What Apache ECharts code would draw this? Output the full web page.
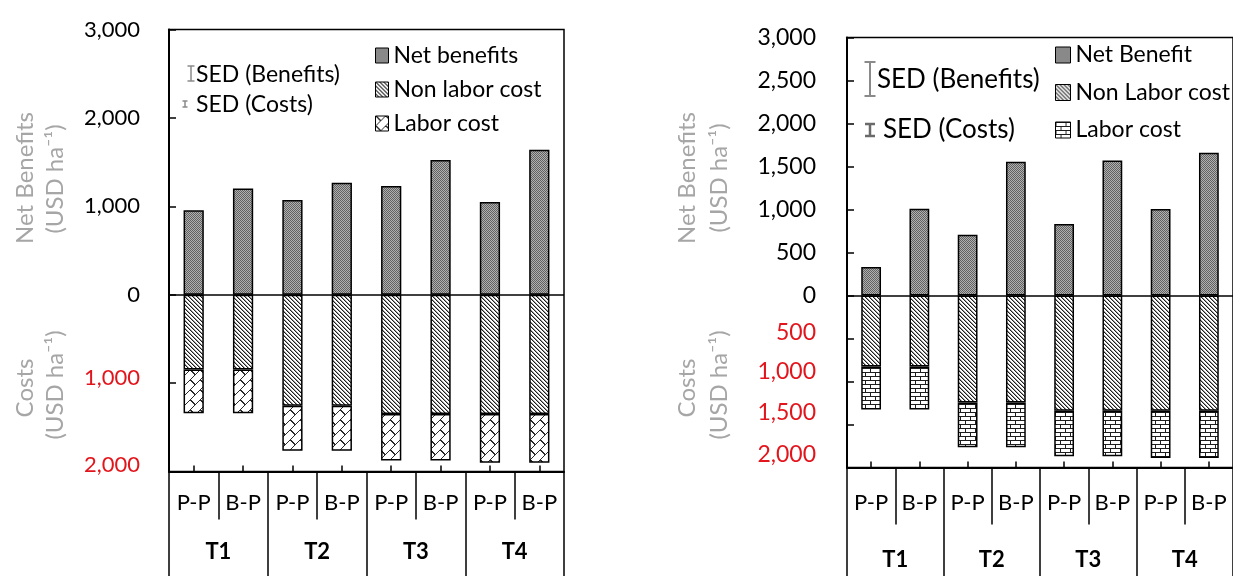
<!DOCTYPE html>
<html>
<head>
<meta charset="utf-8">
<script src="https://cdn.jsdelivr.net/npm/echarts@6/dist/echarts.min.js"></script>
<style>
html,body{margin:0;padding:0;background:#fff;}
#chart{width:1233px;height:576px;}
</style>
</head>
<body>
<div id="chart"></div>
<script>
// ---------------- data ----------------
const categories = ['P-P', 'B-P', 'P-P', 'B-P', 'P-P', 'B-P', 'P-P', 'B-P'];
const groups = ['T1', 'T2', 'T3', 'T4'];

const leftNames = ['Net benefits', 'Non labor cost', 'Labor cost'];
const leftNetBenefits = [955, 1200, 1070, 1265, 1230, 1525, 1050, 1640];
const leftNonLaborCost = [845, 845, 1255, 1255, 1350, 1350, 1350, 1350];
const leftLaborCost = [495, 495, 510, 510, 525, 525, 550, 550];

const rightNames = ['Net Benefit', 'Non Labor cost', 'Labor cost'];
const rightNetBenefits = [330, 1010, 705, 1555, 830, 1570, 1005, 1660];
const rightNonLaborCost = [825, 825, 1245, 1245, 1340, 1340, 1340, 1340];
const rightLaborCost = [500, 500, 520, 520, 530, 530, 550, 550];

const leftAxisRange = [-2000, 3000];
const leftAxisStep = 1000;
const rightAxisRange = [-2000, 3000];
const rightAxisStep = 500;

const axisTitleTop = ['Net Benefits', '(USD ha\u207B\u00B9)'];
const axisTitleBottom = ['Costs', '(USD ha\u207B\u00B9)'];
const sedLabels = ['SED (Benefits)', 'SED (Costs)'];

// ---------------- patterns ----------------
function tile(w, h, draw) {
  const c = document.createElement('canvas');
  c.width = w; c.height = h;
  const ctx = c.getContext('2d');
  draw(ctx);
  return { image: c, repeat: 'repeat' };
}
const patNet = tile(2, 2, ctx => {
  ctx.fillStyle = '#b0b0b0'; ctx.fillRect(0, 0, 2, 2);
  ctx.fillStyle = '#626262'; ctx.fillRect(0, 0, 1, 1); ctx.fillRect(1, 1, 1, 1);
});
const patNonLabor = tile(4, 4, ctx => {
  ctx.fillStyle = '#ffffff'; ctx.fillRect(0, 0, 4, 4);
  for (let i = 0; i < 4; i++) {
    ctx.fillStyle = '#1e1e1e'; ctx.fillRect(i, i, 1, 1);
    ctx.fillStyle = '#9a9a9a'; ctx.fillRect((i + 1) % 4, i, 1, 1);
  }
});
const patDiagBrick = tile(20, 20, ctx => {
  ctx.fillStyle = '#ffffff'; ctx.fillRect(0, 0, 20, 20);
  ctx.fillStyle = '#2a2a2a';
  for (let x = 0; x < 20; x++) for (let y = 0; y < 20; y++) {
    const u = (x + y) % 20;
    const v = ((x - y) % 20 + 20) % 20;
    const band = Math.floor(u / 10);
    if (u % 10 === 9) ctx.fillRect(x, y, 1, 1);
    else if (band === 0 && (v === 0 || v === 1)) ctx.fillRect(x, y, 1, 1);
    else if (band === 1 && (v === 10 || v === 11)) ctx.fillRect(x, y, 1, 1);
  }
});
const patHorizBrick = tile(10, 8, ctx => {
  ctx.fillStyle = '#ffffff'; ctx.fillRect(0, 0, 10, 8);
  ctx.fillStyle = '#1e1e1e';
  ctx.fillRect(0, 0, 10, 1); ctx.fillRect(0, 4, 10, 1);
  ctx.fillRect(0, 1, 1, 3); ctx.fillRect(5, 5, 1, 3);
});

// ---------------- helpers ----------------
const FONT = 'Lato, "Open Sans", sans-serif';
const RED = '#e3151c';
const GRAY = '#a6a6a6';

function labelFormatter(shifts) {
  return function (v) {
    const s = Math.abs(v).toLocaleString('en-US');
    const p = shifts[v];
    return p ? '{s' + p + '|' + s + '}' : s;
  };
}
function richFor(shifts) {
  const r = {};
  Object.keys(shifts).forEach(k => { r['s' + shifts[k]] = { padding: [0, 0, shifts[k], 0] }; });
  return r;
}
function yAxisFor(grid, range, step, fontSize, margin, shifts) {
  return {
    gridIndex: grid, type: 'value', min: range[0], max: range[1], interval: step,
    axisLine: { show: true, lineStyle: { color: '#000', width: 2 } },
    axisTick: { show: true, inside: true, length: 7, lineStyle: { color: '#000', width: 1.5 } },
    splitLine: { show: false },
    axisLabel: {
      margin: margin, fontFamily: FONT, fontSize: fontSize,
      color: v => (v < 0 ? RED : '#000'),
      formatter: labelFormatter(shifts), rich: richFor(shifts)
    }
  };
}
function xAxesFor(grid, sepLen, labelMargin, groupLen, groupMargin, fontSize) {
  return [
    { gridIndex: grid, type: 'category', data: categories, position: 'bottom',
      axisLine: { show: true, onZero: false, lineStyle: { color: '#000', width: 2 } },
      axisTick: { show: true, interval: 0, alignWithLabel: false, length: sepLen, lineStyle: { color: '#000', width: 1.5 } },
      axisLabel: { interval: 0, margin: labelMargin, fontFamily: FONT, fontSize: fontSize, color: '#000' } },
    { gridIndex: grid, type: 'category', data: groups, position: 'bottom',
      axisLine: { show: false, onZero: false },
      axisTick: { show: true, interval: 0, alignWithLabel: false, length: groupLen, lineStyle: { color: '#000', width: 1.5 } },
      axisLabel: { interval: 0, margin: groupMargin, fontFamily: FONT, fontSize: fontSize, fontWeight: 'bold', color: '#000' } },
    { gridIndex: grid, type: 'category', data: categories, position: 'bottom',
      axisLine: { show: false, onZero: false },
      axisTick: { show: true, interval: 0, alignWithLabel: true, inside: true, length: 6, lineStyle: { color: '#000', width: 1.5 } },
      axisLabel: { show: false } }
  ];
}
const neg = arr => arr.map(v => -v);
function seriesFor(names, net, nonLabor, labor, xIdx, yIdx, laborPat) {
  const common = { type: 'bar', stack: 'p' + yIdx, xAxisIndex: xIdx, yAxisIndex: yIdx, barWidth: '41%' };
  return [
    Object.assign({}, common, { name: names[0], data: net,
      itemStyle: { color: patNet, borderColor: '#000', borderWidth: 1.5 },
      markLine: { silent: true, symbol: ['none', 'none'], label: { show: false },
        lineStyle: { color: '#000', width: 1.5, type: 'solid' }, data: [{ yAxis: 0 }] } }),
    Object.assign({}, common, { name: names[1], data: neg(nonLabor),
      itemStyle: { color: patNonLabor, borderColor: '#000', borderWidth: 1.5 } }),
    Object.assign({}, common, { name: names[2] + (yIdx === 1 ? '\u200B' : ''), data: neg(labor),
      itemStyle: { color: laborPat, borderColor: '#000', borderWidth: 1.5 } })
  ];
}
function vtext(x, y, text, size) {
  return { type: 'text', x: x, y: y, rotation: Math.PI / 2, silent: true,
    style: { text: text, fill: GRAY, font: size + 'px ' + FONT, align: 'center', verticalAlign: 'middle' } };
}
function htext(x, y, text, size) {
  return { type: 'text', x: x, y: y, silent: true,
    style: { text: text, fill: '#000', font: size + 'px ' + FONT, align: 'left', verticalAlign: 'middle' } };
}
function ibeam(cx, y1, y2, w, color, lw) {
  return { type: 'group', silent: true, children: [
    { type: 'line', shape: { x1: cx, y1: y1, x2: cx, y2: y2 }, style: { stroke: color, lineWidth: lw } },
    { type: 'line', shape: { x1: cx - w / 2, y1: y1, x2: cx + w / 2, y2: y1 }, style: { stroke: color, lineWidth: lw } },
    { type: 'line', shape: { x1: cx - w / 2, y1: y2, x2: cx + w / 2, y2: y2 }, style: { stroke: color, lineWidth: lw } }
  ] };
}

// ---------------- option ----------------
const option = {
  backgroundColor: '#fff',
  animation: false,
  grid: [
    { left: 169, top: 29.5, width: 395, height: 442, show: true, borderColor: '#000', borderWidth: 1.5, backgroundColor: 'transparent' },
    { left: 847, top: 37.5, width: 394, height: 430, show: true, borderColor: '#000', borderWidth: 1.5, backgroundColor: 'transparent' }
  ],
  xAxis: [].concat(
    xAxesFor(0, 48, 20, 105, 69, 22),
    xAxesFor(1, 57, 24, 109, 81, 22)
  ),
  yAxis: [
    yAxisFor(0, leftAxisRange, leftAxisStep, 22, 29, { '-1000': 10, '-2000': 14 }),
    yAxisFor(1, rightAxisRange, rightAxisStep, 23, 31, { '-500': 12, '-1000': 20, '-1500': 24, '-2000': 26 })
  ],
  legend: [
    { orient: 'vertical', left: 375, top: 44, padding: 0, itemWidth: 13, itemHeight: 15, itemGap: 11,
      icon: 'rect', selectedMode: false, data: leftNames,
      itemStyle: { borderColor: '#000', borderWidth: 1 },
      textStyle: { fontFamily: FONT, fontSize: 23, color: '#000' } },
    { orient: 'vertical', left: 1055, top: 43.5, padding: 0, itemWidth: 15, itemHeight: 16, itemGap: 14.5,
      icon: 'rect', selectedMode: false,
      data: [rightNames[0], rightNames[1], rightNames[2] + '\u200B'],
      itemStyle: { borderColor: '#000', borderWidth: 1 },
      textStyle: { fontFamily: FONT, fontSize: 23, color: '#000' } }
  ],
  series: [].concat(
    seriesFor(leftNames, leftNetBenefits, leftNonLaborCost, leftLaborCost, 0, 0, patDiagBrick),
    seriesFor(rightNames, rightNetBenefits, rightNonLaborCost, rightLaborCost, 3, 1, patHorizBrick)
  ),
  graphic: [
    vtext(25, 178, axisTitleTop[0], 24), vtext(55, 179, axisTitleTop[1], 24),
    vtext(25, 388, axisTitleBottom[0], 24), vtext(55, 385, axisTitleBottom[1], 24),
    vtext(687, 178, axisTitleTop[0], 24), vtext(719, 178, axisTitleTop[1], 24),
    vtext(687, 388, axisTitleBottom[0], 24), vtext(719, 385, axisTitleBottom[1], 24),
    ibeam(191, 66, 81, 7, '#8a8a8a', 1.5), htext(196, 75, sedLabels[0], 23),
    ibeam(185, 101, 107, 5, '#8a8a8a', 1.5), htext(196, 105, sedLabels[1], 23),
    ibeam(870, 62, 96, 11, '#8a8a8a', 2), htext(877, 80, sedLabels[0], 26),
    ibeam(870, 124, 136, 10, '#6a6a6a', 2.5), htext(883, 130, sedLabels[1], 26)
  ]
};

const chart = echarts.init(document.getElementById('chart'), null, { renderer: 'canvas' });
chart.setOption(option);
</script>
</body>
</html>
